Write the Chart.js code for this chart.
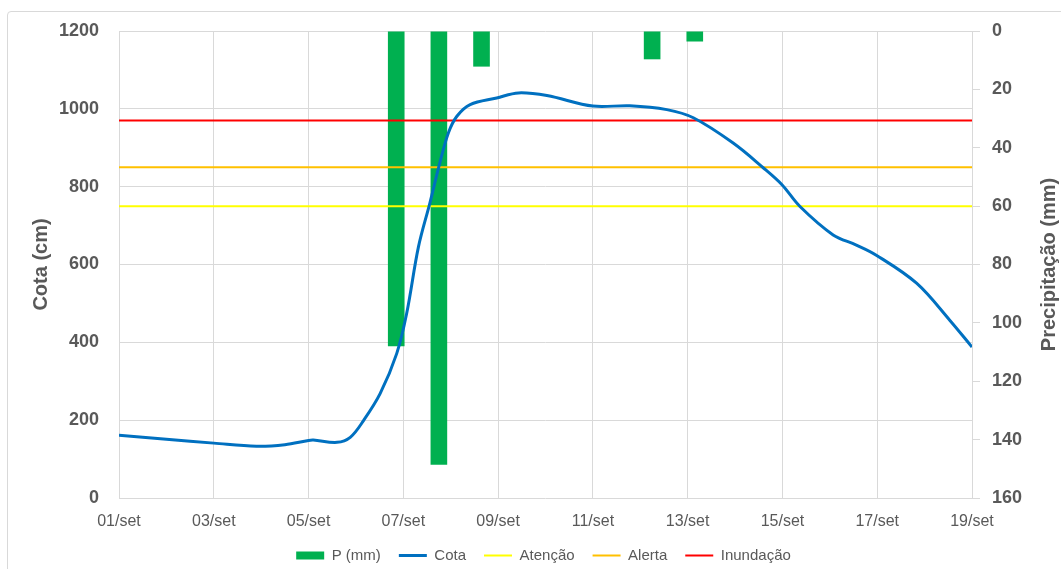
<!DOCTYPE html>
<html>
<head>
<meta charset="utf-8">
<script src="https://cdn.jsdelivr.net/npm/chart.js@4.4.1/dist/chart.umd.min.js"></script>
<style>
  html, body { margin: 0; padding: 0; background: #fff; overflow: hidden; }
  #wrap { position: relative; width: 1061px; height: 569px; overflow: hidden; }
  #frame { position: absolute; left: 7px; top: 11px; width: 1100px; height: 600px; border: 1px solid #d9d9d9; border-radius: 4px; }
  #myChart { position: absolute; left: 0; top: 0; }
</style>
</head>
<body>
<div id="wrap">
  <div id="frame"></div>
  <canvas id="myChart" width="1061" height="573"></canvas>
</div>
<script>
// rótulos do eixo x (a cada 2 dias)
const tickLabels = ["01/set", "03/set", "05/set", "07/set", "09/set", "11/set", "13/set", "15/set", "17/set", "19/set"];

// precipitação diária (eixo secundário, 20 categorias)
const precipLabels = ["01/set", "02/set", "03/set", "04/set", "05/set", "06/set", "07/set", "08/set", "09/set", "10/set",
                      "11/set", "12/set", "13/set", "14/set", "15/set", "16/set", "17/set", "18/set", "19/set", "20/set"];
const precipValues = [0, 0, 0, 0, 0, 0, 108, 148.6, 12.2, 0, 0, 0, 9.7, 3.6, 0, 0, 0, 0, 0, 0];

// cota do rio (dias desde 01/set)
const cotaDays   = [0, 1, 2, 2.9, 3.5, 4.0, 4.1, 4.6, 4.88, 5.16, 5.51, 5.86, 6.07, 6.32, 6.56, 6.77, 6.95, 7.13, 7.41,
                    7.97, 8.43, 9.03, 10.0, 10.78, 11.56, 12.12, 12.96, 13.6, 13.99, 14.37, 15.07, 15.56, 15.98, 16.83, 17.53, 18.0];
const cotaValues = [161, 151, 141, 133, 137, 148, 149, 143, 156, 199, 268, 371, 474, 646, 758, 861, 938, 981, 1011,
                    1028, 1041, 1034, 1007, 1008, 998, 977, 912, 848, 805, 749, 676, 650, 624, 552, 457, 388];

// cotas de referência
const atencao = 750;
const alerta = 850;
const inundacao = 970;

const firstDay = cotaDays[0];
const lastDay = cotaDays[cotaDays.length - 1];
const refLine = v => [{ x: firstDay, y: v }, { x: lastDay, y: v }];

const gray = '#595959';
const gridColor = '#d9d9d9';
Chart.defaults.font.family = '"Liberation Sans", Arial, sans-serif';

// titulo do eixo direito, lido de baixo para cima
const rightTitle = {
  id: 'rightTitle',
  afterDraw(chart) {
    const ctx = chart.ctx;
    const area = chart.chartArea;
    ctx.save();
    ctx.translate(1049, (area.top + area.bottom) / 2);
    ctx.rotate(-Math.PI / 2);
    ctx.font = 'bold 20px "Liberation Sans", Arial, sans-serif';
    ctx.fillStyle = gray;
    ctx.textAlign = 'center';
    ctx.textBaseline = 'middle';
    ctx.fillText('Precipitação (mm)', 0, 0);
    ctx.restore();
  }
};

const data = {
  labels: precipLabels,
  datasets: [
    {
      type: 'bar',
      label: 'P (mm)',
      data: precipValues,
      xAxisID: 'xBar',
      yAxisID: 'y1',
      backgroundColor: '#00b050',
      grouped: false,
      barPercentage: 0.39,
      categoryPercentage: 1,
      pointStyle: 'rect',
      order: 3
    },
    {
      type: 'line',
      label: 'Cota',
      data: cotaDays.map((d, i) => ({ x: d, y: cotaValues[i] })),
      xAxisID: 'x',
      yAxisID: 'y',
      borderColor: '#0070c0',
      backgroundColor: '#0070c0',
      borderWidth: 3,
      pointRadius: 0,
      pointStyle: 'line',
      tension: 0.35, // suaviza a linha
      order: 1
    },
    {
      type: 'line',
      label: 'Atenção',
      data: refLine(atencao),
      xAxisID: 'x',
      yAxisID: 'y',
      borderColor: '#ffff00',
      backgroundColor: '#ffff00',
      borderWidth: 2,
      pointRadius: 0,
      pointStyle: 'line',
      order: 2
    },
    {
      type: 'line',
      label: 'Alerta',
      data: refLine(alerta),
      xAxisID: 'x',
      yAxisID: 'y',
      borderColor: '#ffc000',
      backgroundColor: '#ffc000',
      borderWidth: 2,
      pointRadius: 0,
      pointStyle: 'line',
      order: 2
    },
    {
      type: 'line',
      label: 'Inundação',
      data: refLine(inundacao),
      xAxisID: 'x',
      yAxisID: 'y',
      borderColor: '#ff0000',
      backgroundColor: '#ff0000',
      borderWidth: 2,
      pointRadius: 0,
      pointStyle: 'line',
      order: 2
    }
  ]
};

const config = {
  type: 'line',
  data: data,
  plugins: [rightTitle],
  options: {
    responsive: false,
    animation: false,
    layout: { padding: { left: 29, right: 3, top: 31, bottom: 0 } },
    plugins: {
      legend: {
        position: 'bottom',
        labels: {
          usePointStyle: true,
          pointStyleWidth: 28,
          boxHeight: 8,
          padding: 18,
          color: gray,
          font: { size: 15 },
          sort: (a, b) => a.datasetIndex - b.datasetIndex
        }
      },
      tooltip: { enabled: false }
    },
    scales: {
      x: {
        type: 'linear',
        position: 'bottom',
        min: 0,
        max: 18,
        offset: false,
        grid: { color: gridColor, drawTicks: false },
        border: { display: false },
        ticks: {
          stepSize: 2,
          padding: 14,
          color: gray,
          font: { size: 16 },
          maxRotation: 0,
          autoSkip: false,
          callback: v => tickLabels[v / 2] ?? ''
        },
        afterFit: s => { s.height = 32; }
      },
      xBar: {
        type: 'category',
        labels: precipLabels,
        offset: true,
        display: false,
        grid: { offset: true }
      },
      y: {
        position: 'left',
        min: 0,
        max: 1200,
        grid: { color: gridColor, drawTicks: false },
        border: { display: false },
        ticks: { stepSize: 200, padding: 20, color: gray, font: { size: 18, weight: 'bold' }, callback: v => String(v) },
        title: { display: true, text: 'Cota (cm)', color: gray, font: { size: 20, weight: 'bold' }, padding: 0 },
        afterFit: s => { s.width = 90; }
      },
      y1: {
        position: 'right',
        reverse: true,
        min: 0,
        max: 160,
        grid: { drawOnChartArea: false, color: gridColor, tickLength: 8 },
        border: { display: true, color: gridColor },
        ticks: { stepSize: 20, padding: 12, color: gray, font: { size: 18, weight: 'bold' }, callback: v => String(v) },
        afterFit: s => { s.width = 86; }
      }
    }
  }
};

const ctx = document.getElementById('myChart').getContext('2d');
const myChart = new Chart(ctx, config);
</script>
</body>
</html>
